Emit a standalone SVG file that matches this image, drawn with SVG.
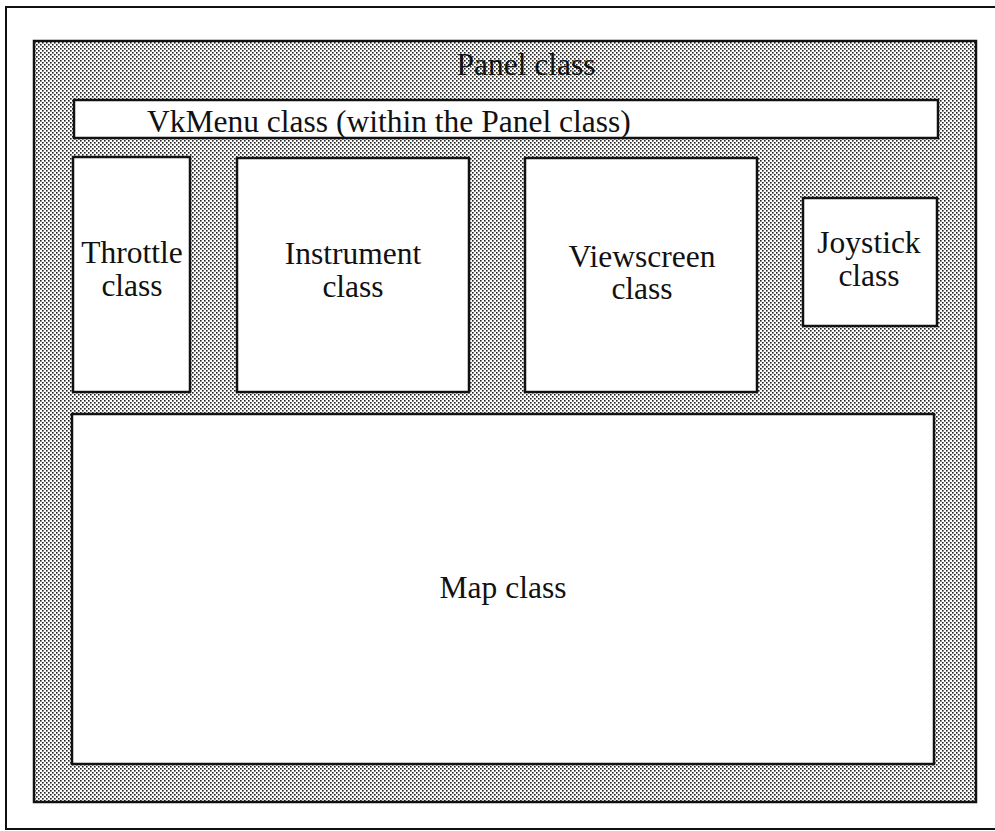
<svg xmlns="http://www.w3.org/2000/svg" width="995" height="831" viewBox="0 0 995 831">
  <style>
    .frame { fill: none; stroke: #111; stroke-width: 2; }
    .panel { fill: url(#stipple); stroke: #111; stroke-width: 2.5; }
    .box { fill: #fff; stroke: #111; stroke-width: 2.5; }
    .label { font-family: "Liberation Serif", "Times New Roman", serif; font-size: 31.5px; fill: #111; text-anchor: middle; }
  </style>
  <defs>
    <!-- halftone dot screen used as the panel background -->
    <pattern id="stipple" width="4" height="4" patternUnits="userSpaceOnUse">
      <rect width="4" height="4" fill="#fff"/>
      <rect x="0" y="0" width="1.6" height="1.6" fill="#222"/>
      <rect x="2" y="2" width="1.6" height="1.6" fill="#222"/>
    </pattern>
  </defs>

  <!-- outer frame -->
  <rect class="frame" x="6" y="7" width="1000" height="822"/>

  <g id="panel">
    <rect class="panel" x="34" y="41" width="942" height="761"/>
    <text class="label" x="526" y="75">Panel class</text>
  </g>

  <g id="vkmenu">
    <rect class="box" x="74" y="100" width="864" height="38"/>
    <text class="label" x="147" y="132" style="text-anchor:start">VkMenu class (within the Panel class)</text>
  </g>

  <g id="throttle">
    <rect class="box" x="73" y="157" width="117" height="235"/>
    <text class="label" x="132" y="263">Throttle</text>
    <text class="label" x="132" y="296">class</text>
  </g>

  <g id="instrument">
    <rect class="box" x="237" y="158" width="232" height="234"/>
    <text class="label" x="353" y="264">Instrument</text>
    <text class="label" x="353" y="297">class</text>
  </g>

  <g id="viewscreen">
    <rect class="box" x="525" y="158" width="232" height="234"/>
    <text class="label" x="642" y="267">Viewscreen</text>
    <text class="label" x="642" y="299">class</text>
  </g>

  <g id="joystick">
    <rect class="box" x="803" y="198" width="134" height="128"/>
    <text class="label" x="869" y="253">Joystick</text>
    <text class="label" x="869" y="286">class</text>
  </g>

  <g id="map">
    <rect class="box" x="72" y="414" width="862" height="350"/>
    <text class="label" x="503" y="598">Map class</text>
  </g>

  <g id="connectors"></g>
</svg>
